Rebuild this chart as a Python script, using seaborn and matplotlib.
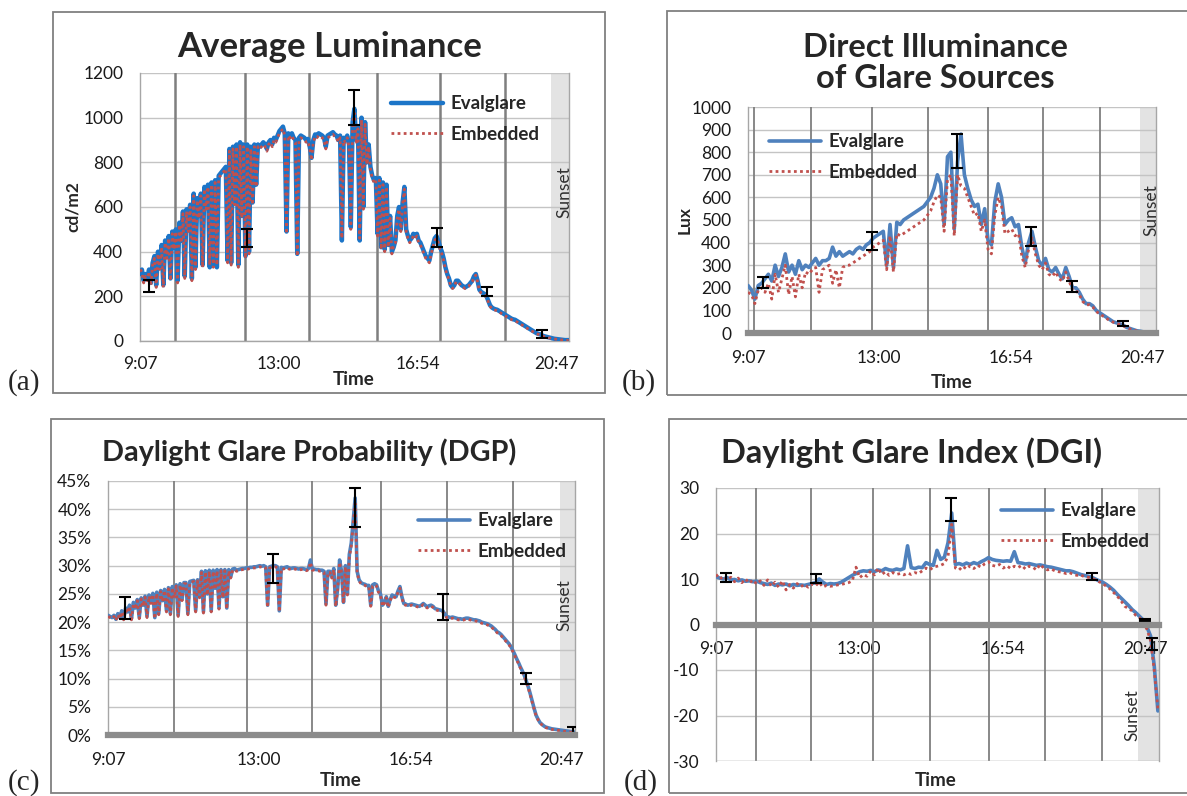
import numpy as np
import pandas as pd
import matplotlib
matplotlib.use("Agg")
import matplotlib.pyplot as plt
from matplotlib.patches import Rectangle
from matplotlib.lines import Line2D
import seaborn as sns

sns.set_style("white")
plt.rcParams['font.family'] = ['Lato', 'DejaVu Sans']

W, H = 1187, 796

# sample times (hours) from 9:07: every 3 min for (a),(c), every 6 min for (b),(d)
times_fine = 9.12 + 0.05 * np.arange(241)
times = 9.12 + 0.1 * np.arange(121)

tick_pos = [9.117, 13.0, 16.9, 20.783]
tick_lab = ['9:07', '13:00', '16:54', '20:47']

# (a) average luminance, cd/m2 (one row per hour)
lum_eval = [300, 320, 270, 300, 280, 320, 260, 350, 380, 250, 400, 330, 430, 250, 450, 380, 470, 280, 490, 420,
            500, 270, 530, 450, 580, 290, 590, 500, 610, 280, 660, 330, 640, 560, 660, 340, 690, 600, 700, 330,
            710, 340, 720, 330, 740, 750, 760, 770, 780, 360, 860, 350, 870, 620, 880, 340, 890, 560, 880, 380,
            880, 400, 870, 620, 880, 700, 880, 870, 880, 890, 880, 860, 890, 900, 880, 910, 900, 920, 940, 950,
            960, 930, 490, 930, 920, 930, 910, 900, 390, 910, 920, 915, 910, 900, 905, 870, 820, 900, 925, 920,
            930, 925, 920, 910, 870, 920, 925, 930, 935, 925, 920, 900, 920, 450, 910, 900, 920, 880, 510, 980,
            1040, 900, 960, 450, 1000, 600, 980, 800, 880, 780, 740, 720, 730, 480, 730, 420, 710, 410, 700, 430,
            560, 400, 420, 450, 560, 600, 500, 620, 690, 500, 470, 450, 460, 480, 470, 480, 450, 440, 420, 400,
            380, 370, 360, 400, 430, 460, 470, 450, 420, 400, 370, 330, 300, 280, 250, 240, 250, 270, 270, 260,
            250, 245, 240, 245, 250, 260, 270, 290, 300, 270, 230, 220, 215, 210, 200, 180, 160, 150, 145, 142,
            140, 135, 130, 125, 120, 115, 110, 105, 100, 97, 95, 90, 85, 80, 75, 70, 65, 60, 55, 50,
            45, 40, 35, 32, 30, 26, 22, 20, 18, 16, 14, 12, 10, 9, 8, 7, 6, 5, 4, 4,
            4]
lum_emb = [320, 310, 260, 290, 270, 310, 250, 340, 370, 240, 390, 320, 420, 240, 440, 370, 460, 270, 480, 410,
           490, 260, 520, 440, 570, 280, 580, 490, 600, 270, 650, 320, 630, 550, 650, 330, 680, 590, 690, 340,
           700, 330, 710, 340, 730, 740, 750, 760, 770, 350, 850, 340, 860, 610, 870, 330, 880, 550, 870, 370,
           870, 390, 860, 610, 870, 690, 870, 860, 870, 880, 870, 850, 880, 890, 870, 900, 890, 910, 930, 940,
           950, 920, 480, 920, 910, 920, 900, 890, 380, 900, 910, 905, 900, 890, 895, 860, 810, 890, 915, 910,
           920, 915, 910, 900, 860, 910, 915, 920, 925, 915, 910, 890, 910, 460, 900, 890, 910, 870, 500, 970,
           1020, 890, 950, 460, 990, 590, 970, 790, 870, 770, 730, 710, 720, 470, 720, 410, 700, 400, 690, 420,
           550, 390, 430, 440, 550, 590, 490, 610, 680, 490, 460, 440, 450, 470, 460, 470, 440, 430, 410, 390,
           370, 360, 350, 390, 420, 450, 460, 440, 410, 390, 360, 320, 295, 275, 245, 235, 245, 265, 265, 255,
           245, 240, 235, 240, 245, 255, 265, 285, 295, 265, 225, 215, 210, 205, 195, 175, 155, 145, 140, 138,
           135, 130, 125, 120, 115, 110, 105, 100, 96, 93, 90, 86, 81, 76, 71, 66, 61, 56, 51, 46,
           42, 37, 33, 30, 28, 24, 20, 18, 16, 14, 12, 10, 9, 8, 7, 6, 5, 4, 3, 3,
           3]
lum_err_t = [9.38, 12.1, 15.1, 17.42, 18.84, 20.37]
lum_err_mid = [248, 460, 1045, 462, 220, 30]
lum_err_half = [27, 40, 78, 42, 20, 18]

# (b) direct illuminance of glare sources, lux
lux_eval = [210, 190, 150, 210, 220, 240, 260, 230, 300, 250,
            290, 350, 270, 300, 260, 320, 280, 300, 290, 310,
            330, 300, 320, 320, 330, 380, 340, 360, 340, 350,
            360, 350, 370, 380, 370, 390, 400, 420, 430, 440,
            450, 300, 480, 290, 490, 480, 500, 510, 520, 530,
            540, 550, 560, 580, 600, 640, 700, 660, 480, 780,
            800, 460, 760, 880, 700, 640, 590, 560, 570, 480,
            550, 410, 390, 580, 660, 600, 480, 500, 510, 470,
            480, 380, 310, 400, 450, 380, 320, 300, 330, 280,
            270, 290, 260, 240, 290, 250, 200, 200, 180, 150,
            130, 130, 120, 100, 90, 80, 70, 60, 50, 45,
            40, 35, 25, 20, 15, 10, 8, 5, 4, 3,
            2]
lux_emb = [180, 170, 130, 190, 200, 180, 220, 150, 260, 180,
           240, 300, 170, 250, 160, 260, 200, 270, 260, 280,
           290, 180, 280, 290, 300, 220, 280, 200, 290, 300,
           300, 310, 320, 330, 340, 350, 360, 380, 390, 400,
           410, 280, 430, 270, 440, 430, 440, 450, 460, 470,
           480, 490, 500, 520, 540, 580, 610, 600, 450, 680,
           700, 430, 700, 650, 640, 600, 560, 520, 530, 450,
           500, 370, 350, 520, 600, 560, 440, 450, 460, 430,
           440, 340, 290, 370, 420, 350, 300, 280, 310, 260,
           250, 270, 240, 230, 270, 230, 190, 190, 170, 140,
           125, 125, 115, 95, 85, 75, 65, 55, 48, 42,
           38, 32, 24, 18, 14, 9, 7, 5, 4, 3,
           2]
lux_err_t = [9.57, 12.78, 15.31, 17.5, 18.69, 20.2]
lux_err_mid = [224, 408, 805, 425, 205, 42]
lux_err_half = [24, 39, 75, 42, 25, 12]

# (c) daylight glare probability, % (one row per hour)
dgp_eval = [21.2, 21.0, 20.8, 21.2, 20.5, 21.5, 20.8, 22.0, 20.6, 22.5, 21.8, 23.0, 20.6, 23.5, 22.5, 24.0, 20.8, 24.3, 23.0, 24.6,
            21.0, 24.8, 23.5, 25.1, 20.8, 25.3, 21.5, 25.6, 23.8, 25.8, 22.0, 26.1, 21.5, 26.3, 24.5, 26.6, 21.2, 26.8, 24.0, 27.0,
            27.0, 21.5, 27.2, 27.3, 27.4, 22.0, 27.5, 24.5, 29.0, 21.8, 29.1, 25.0, 29.2, 22.0, 29.2, 26.0, 29.3, 22.5, 29.3, 24.5,
            29.3, 22.5, 29.3, 28.0, 29.4, 29.5, 29.2, 29.3, 29.4, 29.5, 29.5, 29.6, 29.6, 29.7, 29.7, 29.8, 29.8, 29.9, 30.0, 29.9,
            30.0, 29.8, 23.0, 29.8, 29.9, 30.0, 30.0, 29.8, 22.0, 29.7, 29.6, 29.7, 29.8, 29.6, 29.5, 29.6, 29.6, 29.5, 29.4, 29.5,
            29.5, 29.4, 29.3, 29.5, 31.0, 29.4, 29.4, 29.3, 29.3, 29.2, 29.2, 29.0, 23.2, 29.0, 29.0, 28.0, 29.5, 23.0, 26.0, 31.0,
            29.0, 23.5, 30.0, 25.0, 32.0, 34.0, 38.0, 42.0, 29.0, 27.5, 27.0, 26.8, 26.7, 26.5, 26.5, 23.0, 26.6, 26.8, 26.6, 25.5,
            25.0, 23.0, 23.5, 24.5, 22.8, 24.0, 24.8, 24.6, 24.5, 25.5, 26.3, 24.5, 23.3, 23.2, 23.0, 23.1, 23.2, 23.1, 23.0, 22.9,
            22.8, 23.0, 23.3, 23.0, 22.7, 22.9, 23.0, 22.8, 22.4, 22.3, 22.2, 22.1, 22.0, 21.5, 21.0, 20.9, 20.8, 20.9, 20.8, 20.7,
            20.6, 20.6, 20.5, 20.6, 20.7, 20.7, 20.6, 20.5, 20.4, 20.4, 20.3, 20.2, 20.0, 19.9, 19.8, 19.7, 19.5, 19.3, 19.0, 18.7,
            18.3, 18.1, 17.8, 17.4, 17.0, 16.6, 16.2, 15.7, 15.0, 14.3, 13.5, 12.8, 12.0, 11.3, 10.5, 9.5, 8.5, 7.3, 6.0, 4.7,
            3.5, 2.8, 2.2, 1.9, 1.6, 1.4, 1.3, 1.2, 1.1, 1.05, 1.0, 0.95, 0.9, 0.85, 0.8, 0.75, 0.7, 0.65, 0.6, 0.55,
            0.5]
dgp_emb = [21.0, 20.8, 20.6, 21.0, 20.3, 21.3, 20.6, 21.8, 20.4, 22.3, 21.6, 22.8, 20.4, 23.3, 22.3, 23.8, 20.6, 24.1, 22.8, 24.4,
           20.8, 24.6, 23.3, 24.9, 20.6, 25.1, 21.3, 25.4, 23.6, 25.6, 21.8, 25.9, 21.3, 26.1, 24.3, 26.4, 21.0, 26.6, 23.8, 26.8,
           26.8, 21.3, 27.0, 27.1, 27.2, 21.8, 27.3, 24.3, 28.8, 21.6, 28.9, 24.8, 29.0, 21.8, 29.0, 25.8, 29.1, 22.3, 29.1, 24.3,
           29.1, 22.3, 29.1, 27.8, 29.2, 29.3, 29.0, 29.1, 29.2, 29.3, 29.3, 29.4, 29.4, 29.5, 29.5, 29.6, 29.6, 29.7, 29.8, 29.7,
           29.8, 29.6, 22.6, 29.6, 29.7, 29.8, 29.8, 29.6, 21.8, 29.5, 29.4, 29.5, 29.6, 29.4, 29.3, 29.4, 29.4, 29.3, 29.2, 29.3,
           29.3, 29.2, 29.1, 29.3, 30.6, 29.2, 29.2, 29.1, 29.1, 29.0, 29.0, 28.8, 23.0, 28.8, 28.8, 27.8, 29.3, 22.8, 25.8, 30.6,
           28.8, 23.3, 29.8, 24.8, 31.5, 33.5, 37.5, 41.0, 28.8, 27.3, 26.8, 26.6, 26.5, 26.3, 26.3, 22.8, 26.4, 26.6, 26.4, 25.3,
           24.8, 22.8, 23.3, 24.3, 22.6, 23.8, 24.6, 24.4, 24.3, 25.3, 26.0, 24.3, 23.1, 23.0, 22.8, 22.9, 23.0, 22.9, 22.8, 22.7,
           22.6, 22.8, 23.1, 22.8, 22.5, 22.7, 22.8, 22.6, 22.2, 22.1, 22.0, 21.9, 21.8, 21.3, 20.8, 20.7, 20.6, 20.7, 20.6, 20.5,
           20.4, 20.4, 20.3, 20.4, 20.5, 20.5, 20.4, 20.3, 20.2, 20.2, 20.1, 20.0, 19.8, 19.7, 19.6, 19.5, 19.3, 19.1, 18.8, 18.5,
           18.1, 17.9, 17.6, 17.2, 16.8, 16.4, 16.0, 15.5, 14.8, 14.1, 13.3, 12.6, 11.8, 11.1, 10.3, 9.3, 8.3, 7.1, 5.8, 4.6,
           3.4, 2.7, 2.1, 1.8, 1.5, 1.3, 1.2, 1.1, 1.0, 0.95, 0.9, 0.85, 0.8, 0.75, 0.7, 0.65, 0.6, 0.55, 0.5, 0.45,
           0.4]
dgp_err_t = [9.55, 13.37, 15.46, 17.73, 19.86, 21.06]
dgp_err_mid = [22.5, 29.5, 40.3, 22.6, 10.0, 0.8]
dgp_err_half = [1.9, 2.5, 3.5, 2.3, 0.95, 0.6]

# (d) daylight glare index
dgi_eval = [10.5, 10.2, 10.0, 10.3, 9.8, 9.9, 9.6, 9.8, 9.5, 9.6,
            9.4, 9.5, 9.2, 9.0, 8.8, 9.1, 8.6, 8.9, 8.7, 8.9,
            8.5, 8.8, 8.6, 8.7, 8.6, 8.8, 9.0, 9.2, 10.0, 9.3,
            8.8, 9.0, 8.9, 9.0, 9.3, 9.8, 10.3, 10.8, 11.2, 11.6,
            11.8, 11.7, 11.9, 11.6, 12.0, 11.8, 12.3, 12.0, 11.9, 12.2,
            12.0, 12.3, 17.3, 12.5, 12.3, 12.6, 12.5, 13.6, 13.2, 13.0,
            16.3, 14.3, 14.8, 18.0, 24.5, 13.2, 13.4, 13.1, 13.5, 13.2,
            13.6, 13.3, 13.8, 14.2, 14.7, 14.3, 14.1, 14.0, 13.9, 14.0,
            13.9, 16.0, 13.6, 13.5, 13.3, 13.4, 13.2, 13.0, 13.1, 12.9,
            12.7, 12.6, 12.4, 12.2, 12.0, 11.8, 11.8, 11.6, 11.3, 11.0,
            10.8, 10.6, 10.4, 10.0, 9.6, 9.3, 8.8, 8.2, 7.5, 6.6,
            5.8, 5.0, 4.2, 3.3, 2.6, 1.8, 1.0, -0.5, -2.5, -9.0,
            -19.0]
dgi_emb = [11.0, 10.0, 10.6, 9.8, 10.4, 9.4, 10.2, 9.2, 10.0, 9.1,
           9.8, 8.9, 9.6, 8.6, 9.8, 8.4, 9.3, 8.2, 9.6, 7.6,
           8.8, 8.0, 9.0, 8.3, 8.8, 8.2, 8.9, 8.5, 9.3, 8.2,
           8.6, 8.4, 8.5, 8.7, 8.8, 9.0, 9.2, 9.6, 12.6, 10.3,
           11.0, 10.6, 11.8, 10.9, 12.4, 11.0, 11.6, 10.8, 11.4, 11.0,
           11.2, 10.9, 11.3, 11.0, 11.4, 11.2, 11.8, 12.4, 12.0, 12.6,
           12.8, 13.0, 13.4, 15.0, 22.0, 12.4, 12.0, 12.8, 12.2, 12.9,
           12.3, 13.0, 12.6, 13.4, 13.8, 13.0, 12.8, 13.2, 12.4, 12.9,
           12.3, 12.8, 12.5, 13.0, 12.2, 12.8, 12.6, 12.0, 13.2, 12.4,
           12.0, 12.2, 11.8, 11.6, 11.5, 11.2, 11.4, 11.0, 10.8, 10.9,
           10.5, 10.4, 10.2, 9.8, 9.4, 9.0, 8.4, 7.8, 7.0, 6.2,
           5.2, 4.0, 3.5, 3.0, 2.0, 1.5, 0.5, -1.0, -3.5, -10.0,
           -18.5]
dgi_err_t = [9.39, 11.83, 15.49, 19.34, 20.77, 20.95]
dgi_err_mid = [10.4, 10.1, 25.3, 10.6, 1.0, -4.2]
dgi_err_half = [1.0, 0.9, 2.6, 0.8, 0.3, 1.3]

fig = plt.figure(figsize=(W / 100, H / 100), dpi=100)


def add_ax(l, t, r, b):
    return fig.add_axes([l / W, 1 - b / H, (r - l) / W, (b - t) / H])


def ftext(x, y, s, **kw):
    fig.text(x / W, 1 - y / H, s, transform=fig.transFigure, **kw)


def frame(l, t, r, b):
    fig.patches.append(Rectangle((l / W, 1 - b / H), (r - l) / W, (b - t) / H,
                                 transform=fig.transFigure, fill=False,
                                 edgecolor='#808080', lw=1.3))


def panel(p):
    frame(*p['box'])
    ax = add_ax(*p['rect'])
    ax.axvspan(p['sunset'], p['xmax'], color='#e3e3e3', lw=0, zorder=0)
    for v in p['vlines']:
        ax.axvline(v, color='#7f7f7f', lw=p['vlw'], zorder=1)
    df = pd.DataFrame({'Time': p['t'], 'Evalglare': p['ev'], 'Embedded': p['em']})
    sns.lineplot(data=df, x='Time', y='Evalglare', ax=ax, color=p['blue'],
                 lw=p['blw'], sort=False, zorder=3)
    sns.lineplot(data=df, x='Time', y='Embedded', ax=ax, color='#c0504d',
                 lw=2.0, linestyle=(0, (1, 1.2)), sort=False, zorder=4)
    ax.errorbar(p['et'], p['emid'], yerr=p['ehalf'], fmt='none', ecolor='black',
                elinewidth=1.5, capsize=4.5, capthick=1.5, zorder=5)
    ax.set_xlim(9.117, p['xmax'])
    ax.set_ylim(p['ylim'])
    ax.set_yticks(p['yticks'])
    ax.set_yticklabels(p['ylabels'])
    ax.set_xticks(tick_pos)
    ax.set_xticklabels(tick_lab)
    ax.set_xlabel('')
    ax.set_ylabel('')
    ax.grid(axis='y', color='#c4c4c4', lw=1.0, zorder=0)
    ax.grid(axis='x', visible=False)
    ax.tick_params(axis='y', length=5, width=1, color='#a6a6a6', labelsize=12.5,
                   pad=7, labelcolor='#1a1a1a')
    ax.tick_params(axis='x', length=0, labelsize=12.5, pad=p['xpad'],
                   labelcolor='#1a1a1a')
    ax.spines['top'].set_visible(False)
    for s in ['left', 'right']:
        ax.spines[s].set_color('#a6a6a6')
        ax.spines[s].set_linewidth(1)
    if p['bar']:
        ax.spines['bottom'].set_color('#8c8c8c')
        ax.spines['bottom'].set_linewidth(4.5)
        ax.spines['bottom'].set_zorder(6)
        if p['zero']:
            ax.spines['bottom'].set_position(('data', 0))
            ax.axhline(p['ylim'][0], color='#c4c4c4', lw=1)
    else:
        ax.spines['bottom'].set_color('#a6a6a6')
        ax.spines['bottom'].set_linewidth(1)
        ax.set_xticks(p['minor'], minor=True)
        ax.tick_params(axis='x', which='minor', length=5, color='#a6a6a6')
    ax.set_facecolor('none')
    handles = [Line2D([], [], color=p['blue'], lw=p['blw']),
               Line2D([], [], color='#c0504d', lw=2.0, ls=(0, (1, 1.2)))]
    ax.legend(handles, ['Evalglare', 'Embedded'], loc='center left',
              bbox_to_anchor=(p['leg'][0] / W, 1 - p['leg'][1] / H),
              bbox_transform=fig.transFigure, frameon=False,
              prop={'weight': 'bold', 'size': 13.5}, handlelength=2.75,
              handletextpad=0.4, labelspacing=0.72, borderpad=0,
              borderaxespad=0)
    tx, ty = p['title_xy']
    ftext(tx, ty, p['title'], ha='center', va='center', fontsize=p['tsize'],
          fontweight='bold', linespacing=1.05)
    ftext(p['time_xy'][0], p['time_xy'][1], 'Time', ha='center', va='center',
          fontsize=13.5, fontweight='bold')
    if p['ylab']:
        ftext(p['ylab_xy'][0], p['ylab_xy'][1], p['ylab'], ha='center',
              va='center', rotation=90, fontsize=12.5, fontweight='bold')
    ftext(p['sun_xy'][0], p['sun_xy'][1], 'Sunset', ha='center', va='center',
          rotation=90, fontsize=12.5, color='#303030')
    ftext(p['letter_xy'][0], p['letter_xy'][1], p['letter'], ha='center',
          va='center', fontsize=21, family='Liberation Serif')
    return ax


panel(dict(box=(53, 12, 605, 393), rect=(140, 73, 569, 341), xmax=21.13,
           sunset=20.63, vlines=[10.10, 12.06, 13.85, 15.75, 17.52, 19.34],
           vlw=1.8, t=times_fine, ev=lum_eval, em=lum_emb, blue='#1c75c8', blw=3.2,
           et=lum_err_t, emid=lum_err_mid, ehalf=lum_err_half,
           ylim=(0, 1200), yticks=[0, 200, 400, 600, 800, 1000, 1200],
           ylabels=['0', '200', '400', '600', '800', '1000', '1200'],
           xpad=11, bar=False, zero=False,
           minor=[10.63, 12.19, 13.8, 15.31, 16.87, 18.42, 19.95],
           leg=(391, 119), title='Average Luminance', title_xy=(330, 47),
           tsize=25, time_xy=(354, 380), ylab='cd/m2', ylab_xy=(73, 207),
           sun_xy=(564, 192), letter='(a)', letter_xy=(24, 383)))

panel(dict(box=(667, 11, 1192, 395), rect=(748, 107, 1156, 333), xmax=21.19,
           sunset=20.72, vlines=[9.29, 10.98, 12.78, 14.44, 16.22, 17.85, 19.53],
           vlw=1.3, t=times, ev=lux_eval, em=lux_emb, blue='#4f81bd', blw=2.6,
           et=lux_err_t, emid=lux_err_mid, ehalf=lux_err_half,
           ylim=(0, 1000), yticks=list(range(0, 1001, 100)),
           ylabels=[str(v) for v in range(0, 1001, 100)],
           xpad=12, bar=True, zero=False, minor=[],
           leg=(769, 157), title='Direct Illuminance\nof Glare Sources',
           title_xy=(935, 63), tsize=23.5, time_xy=(952, 382), ylab='Lux',
           ylab_xy=(685, 220), sun_xy=(1151, 210), letter='(b)',
           letter_xy=(639, 383)))

panel(dict(box=(51, 419, 604, 793), rect=(108, 481, 575, 735), xmax=21.12,
           sunset=20.74, vlines=[10.81, 12.68, 14.35, 16.13, 17.82, 19.53],
           vlw=1.3, t=times_fine, ev=dgp_eval, em=dgp_emb, blue='#4f81bd', blw=2.6,
           et=dgp_err_t, emid=dgp_err_mid, ehalf=dgp_err_half,
           ylim=(0, 45), yticks=list(range(0, 46, 5)),
           ylabels=[f'{v}%' for v in range(0, 46, 5)],
           xpad=12, bar=True, zero=False, minor=[],
           leg=(418, 536), title='Daylight Glare Probability (DGP)',
           title_xy=(309, 452), tsize=20.7, time_xy=(341, 780), ylab=None,
           ylab_xy=None, sun_xy=(564, 605), letter='(c)', letter_xy=(24, 783)))

panel(dict(box=(669, 419, 1192, 793), rect=(716, 488, 1159, 761), xmax=21.15,
           sunset=20.57, vlines=[10.19, 11.71, 13.39, 14.92, 16.53, 18.05, 19.60],
           vlw=1.3, t=times, ev=dgi_eval, em=dgi_emb, blue='#4f81bd', blw=2.6,
           et=dgi_err_t, emid=dgi_err_mid, ehalf=dgi_err_half,
           ylim=(-30, 30), yticks=[-30, -20, -10, 0, 10, 20, 30],
           ylabels=['-30', '-20', '-10', '0', '10', '20', '30'],
           xpad=12, bar=True, zero=True, minor=[],
           leg=(1001, 526), title='Daylight Glare Index (DGI)',
           title_xy=(912, 453), tsize=23.5, time_xy=(936, 780), ylab=None,
           ylab_xy=None, sun_xy=(1132, 715), letter='(d)', letter_xy=(641, 783)))

fig.savefig('out.png', dpi=100)
